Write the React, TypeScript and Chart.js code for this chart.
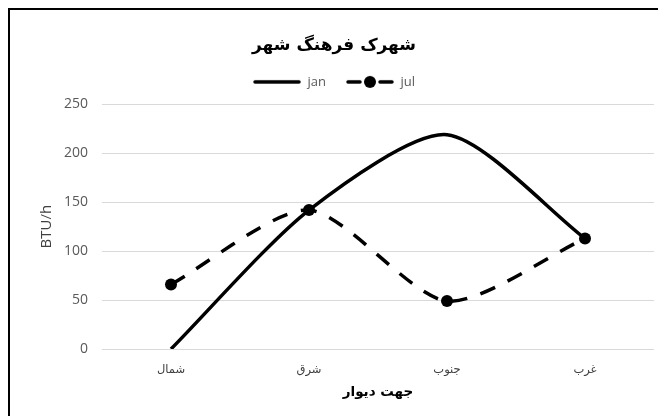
import { useEffect, useRef } from "react";
import { Chart, registerables, layouts } from "chart.js";

Chart.register(...registerables);

const categories = ["شمال", "شرق", "جنوب", "غرب"];
const janValues = [0, 142, 219, 113];
const julValues = [66, 142, 49, 113];
const seriesNames = ["jan", "jul"];
const yMin = 0;
const yMax = 250;
const yStep = 50;
const chartTitle = "شهرک فرهنگ شهر";
const xTitle = "جهت دیوار";
const yTitle = "BTU/h";

function legendImage(withMarker: boolean): HTMLCanvasElement {
  const c = document.createElement("canvas");
  c.width = 48;
  c.height = 14;
  const ctx = c.getContext("2d")!;
  ctx.strokeStyle = "#000";
  ctx.fillStyle = "#000";
  ctx.lineWidth = 3.5;
  ctx.lineCap = "round";
  if (!withMarker) {
    ctx.beginPath();
    ctx.moveTo(2, 7);
    ctx.lineTo(46, 7);
    ctx.stroke();
  } else {
    ctx.beginPath();
    ctx.moveTo(2, 7);
    ctx.lineTo(14, 7);
    ctx.moveTo(34, 7);
    ctx.lineTo(46, 7);
    ctx.stroke();
    ctx.beginPath();
    ctx.arc(24, 7, 6, 0, Math.PI * 2);
    ctx.fill();
  }
  return c;
}

const spacerPlugin = {
  id: "legendSpacer",
  beforeInit(chart: any) {
    const box: any = {
      position: "top",
      weight: 500,
      fullSize: true,
      options: { stackWeight: 1 },
      left: 0,
      top: 0,
      right: 0,
      bottom: 0,
      width: 0,
      height: 0,
      isHorizontal() {
        return true;
      },
      update(maxWidth: number) {
        this.width = maxWidth;
        this.height = 6;
      },
      getPadding() {
        return { top: 0, left: 0, right: 0, bottom: 0 };
      },
      draw() {},
    };
    layouts.addBox(chart, box);
  },
};

export default function App() {
  const ref = useRef<HTMLCanvasElement | null>(null);

  useEffect(() => {
    if (!ref.current) return;
    const imgs = [legendImage(false), legendImage(true)];
    const chart = new Chart(ref.current, {
      type: "line",
      data: {
        labels: categories,
        datasets: [
          {
            label: seriesNames[0],
            data: janValues,
            borderColor: "#000",
            backgroundColor: "#000",
            borderWidth: 3.5,
            pointRadius: 0,
            tension: 0.25,
            fill: false,
          },
          {
            label: seriesNames[1],
            data: julValues,
            borderColor: "#000",
            backgroundColor: "#000",
            borderWidth: 3.5,
            borderDash: [16, 14],
            pointRadius: 6,
            pointBackgroundColor: "#000",
            pointBorderColor: "#000",
            pointBorderWidth: 0,
            tension: 0.25,
            fill: false,
          },
        ],
      },
      plugins: [spacerPlugin],
      options: {
        animation: false,
        responsive: false,
        maintainAspectRatio: false,
        layout: { padding: { left: 4, right: 12, top: 8, bottom: 10 } },
        plugins: {
          tooltip: { enabled: false },
          title: {
            display: true,
            text: chartTitle,
            color: "#000",
            font: { family: "DejaVu Sans", size: 17, weight: "bold" },
            padding: { top: 17, bottom: 0 },
          },
          legend: {
            display: true,
            position: "top",
            labels: {
              usePointStyle: true,
              pointStyleWidth: 48,
              padding: 20,
              color: "#595959",
              font: { family: "Open Sans", size: 13 },
              generateLabels: (ch: any) =>
                ch.data.datasets.map((ds: any, i: number) => ({
                  text: ds.label,
                  pointStyle: imgs[i],
                  fillStyle: "#000",
                  strokeStyle: "#000",
                  lineWidth: 0,
                  hidden: false,
                  datasetIndex: i,
                  fontColor: "#595959",
                })),
            },
          },
        },
        scales: {
          x: {
            offset: true,
            grid: { display: false, drawTicks: false },
            border: { display: false },
            ticks: {
              color: "#404040",
              font: { family: "DejaVu Sans", size: 11.5 },
              padding: 14,
            },
            title: {
              display: true,
              text: xTitle,
              color: "#000",
              font: { family: "DejaVu Sans", size: 13.5, weight: "bold" },
              padding: { top: 2, bottom: 5 },
            },
            afterFit: (s: any) => {
              s.height = 57;
            },
          },
          y: {
            min: yMin,
            max: yMax,
            grid: { color: "#d9d9d9", lineWidth: 1, drawTicks: false },
            border: { display: false },
            ticks: {
              stepSize: yStep,
              color: "#595959",
              font: { family: "Open Sans", size: 14 },
              padding: 14,
            },
            title: {
              display: true,
              text: yTitle,
              color: "#404040",
              font: { family: "Open Sans", size: 15 },
              padding: { top: 24, bottom: 4 },
            },
            afterFit: (s: any) => {
              s.width = 88;
            },
          },
        },
      },
    });
    return () => chart.destroy();
  }, []);

  return (
    <div
      style={{
        width: 656,
        height: 406,
        borderLeft: "2px solid #000",
        borderTop: "2px solid #000",
        background: "#fff",
      }}
    >
      <canvas ref={ref} width={656} height={406} style={{ display: "block" }} />
    </div>
  );
}
